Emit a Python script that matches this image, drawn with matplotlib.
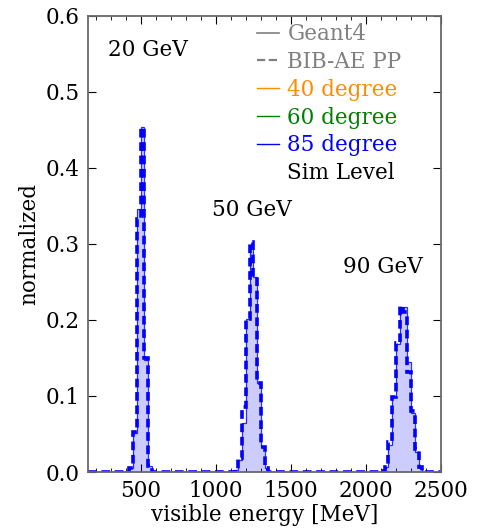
import numpy as np
import matplotlib
matplotlib.use("Agg")
import matplotlib.pyplot as plt
from matplotlib.lines import Line2D
from matplotlib.ticker import MultipleLocator

plt.rcParams['font.family'] = ['DejaVu Serif']

# Histogram binning (MeV)
bin_width = 25
x_lo, x_hi = 150, 2500

# Peaks: first bin edge and normalized bin contents
peak_starts = [425, 1125, 2100]
g4_peaks = [
    [0.005, 0.051, 0.346, 0.454, 0.147, 0.008],
    [0.003, 0.016, 0.065, 0.201, 0.294, 0.256, 0.117, 0.033, 0.005],
    [0.001, 0.006, 0.036, 0.099, 0.169, 0.217, 0.217, 0.145, 0.077, 0.027, 0.005],
]
bib_peaks = [
    [0.005, 0.052, 0.333, 0.452, 0.150, 0.008],
    [0.004, 0.018, 0.086, 0.201, 0.303, 0.256, 0.117, 0.033, 0.005],
    [0.002, 0.007, 0.040, 0.099, 0.170, 0.218, 0.210, 0.132, 0.080, 0.030, 0.006],
]
peak_labels = ["20 GeV", "50 GeV", "90 GeV"]
label_pos = [(280, 0.555), (975, 0.345), (1845, 0.27)]

legend_labels = ["Geant4", "BIB-AE PP", "40 degree", "60 degree", "85 degree", "Sim Level"]
legend_colors = ["gray", "gray", "darkorange", "green", "blue", "black"]

edges = np.arange(x_lo, x_hi + bin_width, bin_width)


def fill_hist(starts, peaks):
    vals = np.zeros(len(edges) - 1)
    for s, p in zip(starts, peaks):
        i0 = (s - x_lo) // bin_width
        vals[i0:i0 + len(p)] = p
    return vals


g4_vals = fill_hist(peak_starts, g4_peaks)
bib_vals = fill_hist(peak_starts, bib_peaks)

fs = 15.5

fig = plt.figure(figsize=(4.95, 5.28), dpi=100)
ax = fig.add_axes([0.178, 0.106, 0.713, 0.864])

ax.stairs(g4_vals, edges, fill=True, color="blue", alpha=0.2, lw=0)
ax.stairs(g4_vals, edges, color="blue", lw=0.9, alpha=0.8)
ax.stairs(bib_vals, edges, color="blue", lw=2.6, linestyle=(0, (2.4, 1.3)))

for txt, (tx, ty) in zip(peak_labels, label_pos):
    ax.text(tx, ty, txt, fontsize=fs, ha="left", va="center")

ax.set_xlim(x_lo, x_hi)
ax.set_ylim(0, 0.6)
ax.set_xticks([500, 1000, 1500, 2000, 2500])
ax.xaxis.set_minor_locator(MultipleLocator(100))
ax.set_yticks(np.arange(0, 0.61, 0.1))
ax.yaxis.set_major_formatter(plt.FormatStrFormatter("%.1f"))
ax.tick_params(which="both", direction="in", top=True, right=True, labelsize=fs)
ax.tick_params(which="major", length=6, pad=6)
ax.tick_params(which="minor", length=3)
for sp in ax.spines.values():
    sp.set_color("dimgray")
    sp.set_linewidth(1.3)

ax.set_xlabel("visible energy [MeV]", fontsize=fs, labelpad=1)
ax.set_ylabel("normalized", fontsize=fs)

handles = [
    Line2D([], [], color="gray", lw=1.2),
    Line2D([], [], color="gray", lw=1.6, linestyle="--"),
    Line2D([], [], color="darkorange", lw=1),
    Line2D([], [], color="green", lw=1),
    Line2D([], [], color="blue", lw=1),
    Line2D([], [], color="none"),
]
leg = ax.legend(handles, legend_labels, loc="upper left", bbox_to_anchor=(0.479, 0.984),
                frameon=False, fontsize=fs, handlelength=1.0, handletextpad=0.4,
                borderpad=0, borderaxespad=0, labelspacing=0.27)
for t, c in zip(leg.get_texts(), legend_colors):
    t.set_color(c)

plt.savefig("out.png", dpi=100)
plt.close()
